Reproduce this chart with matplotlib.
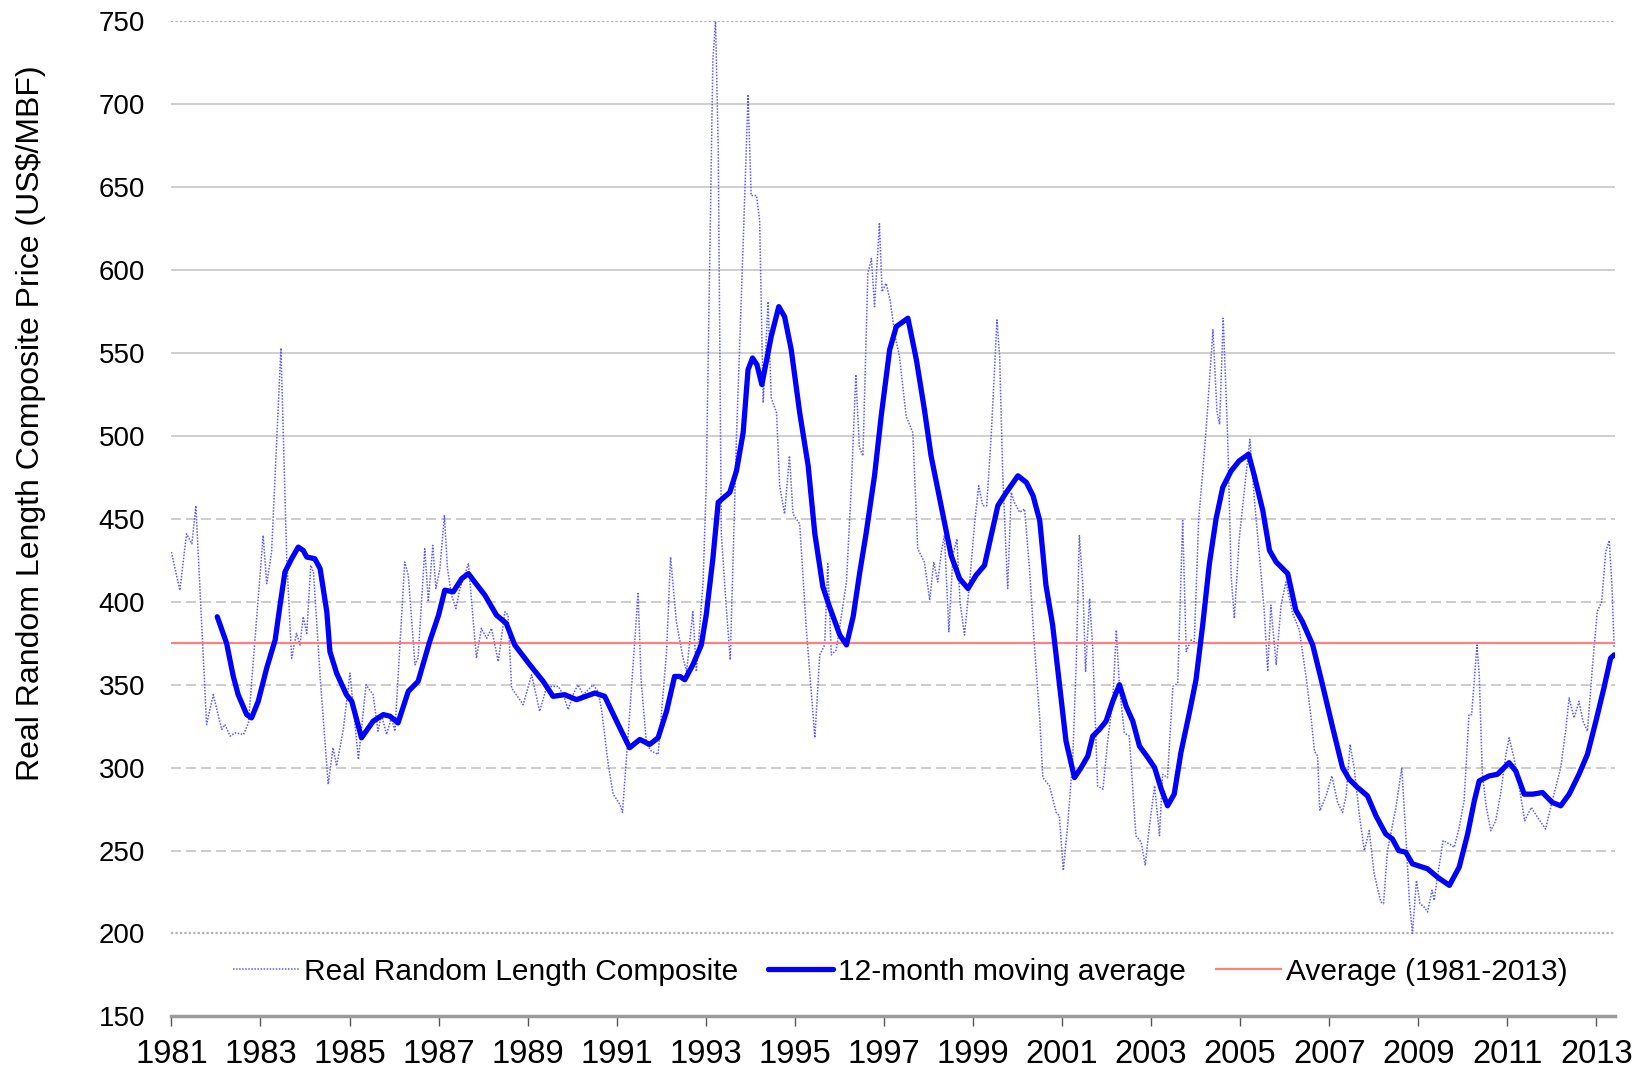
import matplotlib
matplotlib.use("Agg")
import matplotlib.pyplot as plt

plt.rcParams['font.family'] = ['Liberation Sans', 'DejaVu Sans']

# monthly composite price (turning points), decimal years
raw_year = [1981.00, 1981.19, 1981.34, 1981.46, 1981.55, 1981.79, 1981.94, 1982.13, 1982.20, 1982.32,
            1982.43, 1982.62, 1982.73, 1983.06, 1983.14, 1983.25, 1983.46, 1983.59, 1983.70, 1983.81,
            1983.89, 1983.96, 1984.04, 1984.13, 1984.19, 1984.34, 1984.52, 1984.63, 1984.71, 1984.86,
            1985.01, 1985.20, 1985.37, 1985.53, 1985.64, 1985.72, 1985.83, 1985.94, 1986.02, 1986.24,
            1986.32, 1986.47, 1986.54, 1986.69, 1986.77, 1986.87, 1986.94, 1987.03, 1987.13, 1987.20,
            1987.29, 1987.39, 1987.48, 1987.67, 1987.85, 1987.96, 1988.08, 1988.19, 1988.34, 1988.49,
            1988.56, 1988.64, 1988.90, 1989.09, 1989.27, 1989.42, 1989.53, 1989.69, 1989.80, 1989.91,
            1990.02, 1990.13, 1990.25, 1990.47, 1990.58, 1990.66, 1990.81, 1990.92, 1991.07, 1991.13,
            1991.29, 1991.48, 1991.55, 1991.67, 1991.78, 1991.93, 1992.12, 1992.21, 1992.34, 1992.49,
            1992.57, 1992.71, 1992.79, 1992.94, 1993.01, 1993.16, 1993.22, 1993.28, 1993.35, 1993.46,
            1993.55, 1993.69, 1993.84, 1993.95, 1994.02, 1994.14, 1994.21, 1994.29, 1994.40, 1994.47,
            1994.59, 1994.66, 1994.77, 1994.88, 1994.96, 1995.11, 1995.26, 1995.45, 1995.56, 1995.67,
            1995.74, 1995.82, 1995.93, 1996.16, 1996.27, 1996.37, 1996.45, 1996.53, 1996.64, 1996.72,
            1996.79, 1996.90, 1996.96, 1997.05, 1997.14, 1997.24, 1997.35, 1997.50, 1997.65, 1997.76,
            1997.91, 1998.03, 1998.12, 1998.21, 1998.29, 1998.36, 1998.46, 1998.55, 1998.64, 1998.71,
            1998.81, 1998.92, 1999.04, 1999.13, 1999.22, 1999.31, 1999.41, 1999.54, 1999.60, 1999.67,
            1999.78, 1999.86, 1999.93, 2000.05, 2000.16, 2000.27, 2000.38, 2000.50, 2000.57, 2000.72,
            2000.87, 2000.94, 2001.03, 2001.13, 2001.24, 2001.32, 2001.39, 2001.47, 2001.53, 2001.62,
            2001.69, 2001.80, 2001.92, 2002.03, 2002.14, 2002.22, 2002.29, 2002.40, 2002.51, 2002.66,
            2002.78, 2002.87, 2002.96, 2003.08, 2003.19, 2003.26, 2003.37, 2003.49, 2003.60, 2003.71,
            2003.79, 2003.90, 2003.97, 2004.07, 2004.16, 2004.24, 2004.31, 2004.39, 2004.48, 2004.54,
            2004.62, 2004.72, 2004.80, 2004.87, 2004.98, 2005.13, 2005.22, 2005.32, 2005.45, 2005.54,
            2005.62, 2005.69, 2005.81, 2005.92, 2006.03, 2006.18, 2006.33, 2006.48, 2006.59, 2006.67,
            2006.74, 2006.79, 2006.93, 2007.06, 2007.19, 2007.30, 2007.38, 2007.47, 2007.56, 2007.68,
            2007.79, 2007.90, 2008.01, 2008.16, 2008.22, 2008.31, 2008.50, 2008.63, 2008.72, 2008.80,
            2008.87, 2008.96, 2009.04, 2009.13, 2009.21, 2009.31, 2009.36, 2009.43, 2009.56, 2009.70,
            2009.81, 2009.92, 2010.03, 2010.14, 2010.20, 2010.32, 2010.37, 2010.44, 2010.53, 2010.63,
            2010.74, 2010.86, 2010.97, 2011.04, 2011.15, 2011.27, 2011.39, 2011.54, 2011.68, 2011.86,
            2012.01, 2012.20, 2012.31, 2012.39, 2012.50, 2012.61, 2012.70, 2012.80, 2012.91, 2013.02,
            2013.12, 2013.21, 2013.29, 2013.35, 2013.40]
raw_price = [430, 407, 441, 435, 458, 326, 344, 323, 326, 319,
             321, 320, 327, 440, 411, 430, 553, 426, 366, 381,
             374, 391, 381, 422, 418, 355, 290, 312, 301, 323,
             357, 305, 350, 344, 322, 332, 320, 330, 322, 424,
             416, 362, 366, 432, 400, 434, 408, 420, 452, 420,
             404, 396, 408, 423, 366, 384, 378, 384, 364, 394,
             392, 348, 338, 356, 334, 348, 349, 349, 344, 335,
             344, 350, 344, 350, 346, 335, 302, 284, 278, 273,
             332, 405, 352, 314, 310, 308, 370, 427, 388, 366,
             358, 394, 358, 412, 470, 727, 750, 674, 441, 397,
             365, 499, 616, 706, 645, 645, 630, 520, 581, 523,
             514, 470, 453, 488, 453, 447, 383, 318, 368, 374,
             423, 368, 371, 412, 470, 537, 493, 488, 598, 607,
             578, 628, 587, 592, 582, 562, 548, 512, 502, 432,
             424, 401, 424, 412, 430, 440, 382, 428, 438, 400,
             380, 410, 448, 470, 458, 458, 500, 570, 548, 476,
             408, 466, 460, 454, 456, 420, 374, 330, 294, 289,
             273, 271, 238, 266, 305, 363, 440, 409, 358, 402,
             372, 289, 287, 317, 340, 383, 349, 321, 319, 259,
             255, 241, 264, 289, 259, 296, 294, 349, 351, 449,
             370, 377, 375, 450, 478, 505, 533, 564, 515, 507,
             571, 500, 415, 390, 438, 476, 498, 462, 423, 395,
             358, 398, 362, 398, 412, 393, 383, 355, 331, 310,
             307, 274, 283, 295, 279, 273, 283, 314, 300, 271,
             250, 262, 236, 219, 218, 250, 276, 300, 260, 220,
             200, 232, 218, 216, 213, 226, 220, 234, 256, 254,
             252, 264, 280, 332, 332, 374, 356, 296, 276, 262,
             268, 286, 308, 318, 306, 288, 268, 276, 270, 263,
             280, 300, 322, 342, 330, 340, 328, 322, 360, 394,
             400, 430, 437, 410, 372]

# 12-month moving average
ma_year = [1982.03, 1982.24, 1982.39, 1982.50, 1982.69, 1982.80, 1982.95, 1983.14, 1983.33, 1983.44,
           1983.55, 1983.70, 1983.85, 1983.96, 1984.04, 1984.22, 1984.34, 1984.49, 1984.56, 1984.71,
           1984.93, 1985.05, 1985.27, 1985.53, 1985.76, 1985.91, 1986.09, 1986.32, 1986.54, 1986.80,
           1987.00, 1987.14, 1987.33, 1987.52, 1987.67, 1987.81, 1988.04, 1988.30, 1988.52, 1988.71,
           1989.05, 1989.35, 1989.57, 1989.83, 1990.10, 1990.51, 1990.73, 1991.07, 1991.29, 1991.52,
           1991.74, 1991.93, 1992.12, 1992.30, 1992.42, 1992.53, 1992.71, 1992.90, 1993.01, 1993.16,
           1993.28, 1993.54, 1993.69, 1993.84, 1993.95, 1994.05, 1994.15, 1994.26, 1994.47, 1994.64,
           1994.77, 1994.92, 1995.11, 1995.30, 1995.45, 1995.63, 1995.78, 1996.01, 1996.16, 1996.31,
           1996.46, 1996.60, 1996.79, 1996.94, 1997.13, 1997.28, 1997.54, 1997.73, 1997.91, 1998.06,
           1998.21, 1998.36, 1998.51, 1998.70, 1998.89, 1999.07, 1999.26, 1999.41, 1999.56, 1999.75,
           2000.01, 2000.20, 2000.35, 2000.50, 2000.64, 2000.79, 2000.94, 2001.09, 2001.28, 2001.43,
           2001.58, 2001.69, 2001.84, 2001.99, 2002.14, 2002.29, 2002.44, 2002.59, 2002.74, 2002.93,
           2003.08, 2003.23, 2003.37, 2003.52, 2003.67, 2003.86, 2004.01, 2004.16, 2004.31, 2004.46,
           2004.61, 2004.80, 2004.98, 2005.19, 2005.32, 2005.51, 2005.66, 2005.81, 2006.07, 2006.25,
           2006.40, 2006.63, 2006.85, 2007.08, 2007.30, 2007.45, 2007.64, 2007.86, 2008.05, 2008.27,
           2008.42, 2008.56, 2008.72, 2008.87, 2009.21, 2009.43, 2009.70, 2009.92, 2010.11, 2010.26,
           2010.37, 2010.59, 2010.78, 2011.04, 2011.19, 2011.38, 2011.57, 2011.79, 2012.01, 2012.20,
           2012.39, 2012.61, 2012.80, 2012.99, 2013.17, 2013.32, 2013.40]
ma_price = [391, 375, 355, 344, 332, 330, 340, 360, 377, 398,
            418, 426, 433, 431, 427, 426, 420, 394, 370, 357,
            344, 340, 318, 328, 332, 331, 327, 346, 352, 376,
            392, 407, 406, 414, 417, 412, 404, 392, 387, 374,
            362, 352, 343, 344, 341, 345, 343, 324, 312, 317,
            314, 318, 334, 355, 355, 353, 362, 374, 392, 426,
            460, 466, 479, 502, 540, 547, 543, 531, 560, 578,
            572, 552, 514, 482, 441, 409, 397, 380, 374, 391,
            418, 441, 476, 512, 552, 566, 571, 546, 516, 488,
            468, 448, 428, 414, 408, 416, 422, 440, 458, 466,
            476, 472, 464, 449, 410, 386, 351, 316, 294, 300,
            307, 319, 323, 328, 340, 350, 337, 328, 313, 306,
            300, 287, 277, 284, 309, 333, 353, 386, 423, 450,
            469, 479, 485, 489, 476, 455, 431, 424, 417, 395,
            388, 374, 350, 324, 300, 293, 288, 283, 271, 260,
            257, 250, 249, 242, 239, 234, 229, 240, 260, 280,
            292, 295, 296, 303, 298, 284, 284, 285, 279, 277,
            284, 296, 308, 328, 348, 366, 368]

avg_price = 375
avg_span = [1981, 2013.42]

x_ticks = list(range(1981, 2014, 2))
y_ticks = list(range(150, 751, 50))

fig = plt.figure(figsize=(16.48, 10.71), dpi=100)
ax = fig.add_axes([0.104, 0.051, 0.876, 0.929])

# horizontal gridlines, styled like the original
for v in y_ticks[1:]:
    if v in (200, 750):
        ax.axhline(v, color='#b0b0b0', lw=1.6, ls=(0, (1, 1)), zorder=0)
    elif v >= 500:
        ax.axhline(v, color='#cccccc', lw=1.3, zorder=0)
    else:
        ax.axhline(v, color='#c4c4c4', lw=1.2, ls=(0, (6, 3)), zorder=0)

ax.plot(raw_year, raw_price, color='#5a5aff', lw=1.1, ls=(0, (1, 1)),
        label='Real Random Length Composite', zorder=2)
ax.plot(ma_year, ma_price, color='#0000ff', lw=3.8, solid_joinstyle='round',
        solid_capstyle='round', label='12-month moving average', zorder=3)
ax.plot(avg_span, [avg_price, avg_price], color='#ff8080', lw=1.6,
        label='Average (1981-2013)', zorder=2)

ax.set_xlim(1981, 2013.42)
ax.set_ylim(150, 750)
ax.set_xticks(x_ticks)
ax.set_yticks(y_ticks)

for s in ('top', 'right', 'left'):
    ax.spines[s].set_visible(False)
ax.spines['bottom'].set_color('#9a9a9a')
ax.spines['bottom'].set_linewidth(2.5)

ax.tick_params(axis='y', length=0, pad=19, labelsize=20)
ax.tick_params(axis='x', length=7, width=1, color='#555555', pad=9, labelsize=23.5)

ax.legend(loc='center', bbox_to_anchor=(0.505, 0.045), ncol=3, frameon=False,
          fontsize=21.5, handlelength=2.2, handletextpad=0.15, columnspacing=1.0)

fig.text(0.0191, 0.605, 'Real Random Length Composite Price (US$/MBF)',
         rotation=90, ha='center', va='center', fontsize=23)

fig.savefig('out.png', dpi=100)
